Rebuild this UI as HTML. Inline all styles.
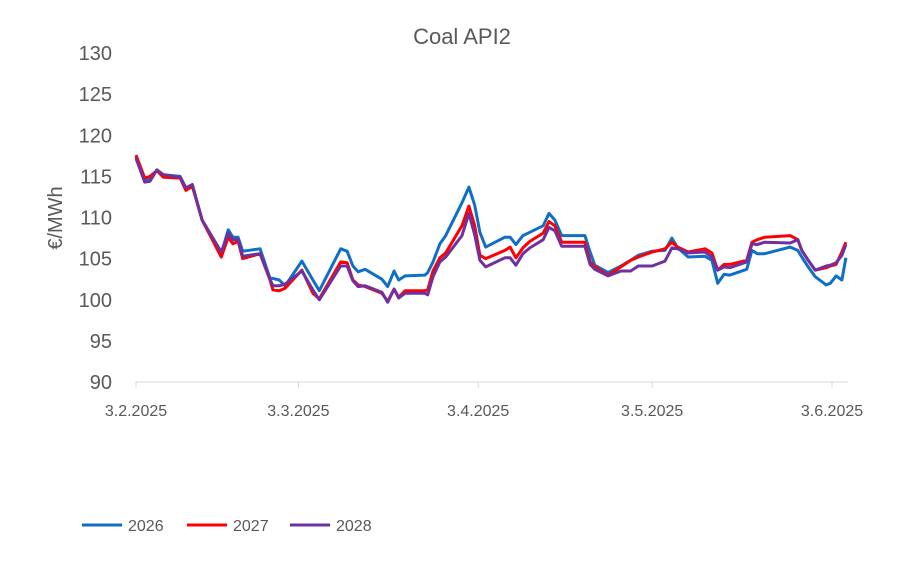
<!DOCTYPE html>
<html><head><meta charset="utf-8"><style>
body{margin:0;background:#fff;}
svg text{font-family:"Liberation Sans",sans-serif;fill:#595959;}
</style></head><body>
<svg width="900" height="574" viewBox="0 0 900 574" id="chart">
<text x="462" y="44" text-anchor="middle" font-size="22">Coal API2</text>
<text transform="translate(62,218) rotate(-90)" text-anchor="middle" font-size="20">€/MWh</text>
<g id="yticks"></g><g id="xaxis"></g><g id="series"></g><g id="legend"></g>
</svg>
<script>
const days=[0,1.5,2.4,3.6,4.7,7.6,8.6,9.7,11.4,14.7,15.9,16.7,17.6,18.4,21.4,23.1,23.6,24.7,25.7,28.6,30.5,31.6,35.3,36.4,37.4,38.3,39.5,42.4,43.4,44.5,45.3,46.4,49.8,50.3,51.2,52.4,53.4,56.2,57.4,58.4,59.3,60.3,63.6,64.5,65.5,66.7,67.9,70.2,71.2,72.2,73.4,77.4,78.3,79.1,81.4,83.6,85.3,86.6,89,91.2,92.4,93.4,95.2,98.1,99.3,100.3,101.4,102.4,105.3,106.2,107.1,108.4,112.8,114.1,114.8,115.9,117.1,119,119.7,120.7,121.7,122.4];
const s2026=[117.4,114.6,114.8,115.7,115.2,115.0,113.6,114.0,109.7,105.6,108.5,107.6,107.6,105.9,106.2,102.6,102.6,102.4,101.7,104.7,102.4,101.1,106.2,105.9,104.1,103.4,103.7,102.5,101.6,103.5,102.4,102.9,103.0,103.3,104.6,106.8,107.8,111.8,113.7,111.5,108.2,106.4,107.6,107.6,106.7,107.8,108.2,109.0,110.5,109.7,107.8,107.8,105.8,104.2,103.3,104.1,104.8,105.4,105.9,106.0,107.5,106.3,105.2,105.3,104.8,102.0,103.1,103.0,103.7,106.0,105.6,105.6,106.4,106.0,105.2,104.0,102.8,101.8,102.0,102.9,102.4,105.1];
const s2027=[117.6,114.8,115.0,115.7,114.9,114.8,113.3,113.8,109.7,105.2,107.6,106.8,107.1,105.0,105.6,102.4,101.2,101.1,101.4,103.6,100.8,100.1,104.6,104.5,102.4,101.8,101.6,100.8,99.8,101.3,100.3,101.1,101.1,101.2,103.5,105.1,105.7,109.0,111.4,109.0,105.4,105.0,106.0,106.4,105.1,106.3,107.1,108.1,109.5,109.0,107.0,107.0,104.6,104.0,103.0,104.0,104.8,105.2,105.8,106.2,107.0,106.4,105.8,106.2,105.7,103.6,104.3,104.3,104.8,107.0,107.3,107.6,107.8,107.3,106.0,104.8,103.6,103.9,104.1,104.3,105.8,107.0];
const s2028=[117.2,114.3,114.4,115.8,115.2,114.9,113.6,114.0,109.7,105.8,108.1,107.3,107.3,105.3,105.6,102.5,101.7,101.7,101.9,103.5,101.2,100.0,104.1,104.1,102.3,101.6,101.7,100.9,99.7,101.3,100.2,100.8,100.8,100.6,102.8,104.6,105.2,107.8,110.5,107.9,104.8,104.0,105.1,105.1,104.2,105.6,106.3,107.3,108.8,108.4,106.5,106.5,104.3,103.7,102.9,103.5,103.5,104.1,104.1,104.7,106.3,106.2,105.7,105.8,105.2,103.6,104.0,103.9,104.6,106.8,106.7,107.0,106.9,107.3,106.0,104.8,103.6,104.1,104.2,104.5,105.4,106.7];
const yTicks=[90,95,100,105,110,115,120,125,130];
const xTickDays=[0,28,59,89,120];
const xTickLabels=["3.2.2025","3.3.2025","3.4.2025","3.5.2025","3.6.2025"];
const seriesNames=["2026","2027","2028"];
const colors=["#0f6fc6","#ff0000","#7030a0"];
const NS="http://www.w3.org/2000/svg";
const X=d=>136+d*5.8;
const Y=v=>382-(v-90)*8.225;
function mk(t,a,p){const e=document.createElementNS(NS,t);for(const k in a)e.setAttribute(k,a[k]);p.appendChild(e);return e;}
const yg=document.getElementById('yticks');
yTicks.forEach(v=>{const t=mk('text',{x:112,y:Y(v)+7,'text-anchor':'end','font-size':20},yg);t.textContent=v;

});
const xg=document.getElementById('xaxis');
const ax=mk('line',{x1:136,y1:382,x2:848,y2:382,stroke:'#d9d9d9','stroke-width':1},xg);


xTickDays.forEach((d,i)=>{const l=mk('line',{x1:X(d),y1:382,x2:X(d),y2:388,stroke:'#d9d9d9'},xg);


const t=mk('text',{x:X(d),y:416,'text-anchor':'middle','font-size':16},xg);t.textContent=xTickLabels[i];

});
const sg=document.getElementById('series');
[s2026,s2027,s2028].forEach((s,i)=>{const pts=s.map((v,j)=>X(days[j]).toFixed(1)+','+Y(v).toFixed(1)).join(' ');
const p=mk('polyline',{points:pts,fill:'none',stroke:colors[i],'stroke-width':3,'stroke-linejoin':'round'},sg);

});
const lg=document.getElementById('legend');
const lx=[82,187,290];
seriesNames.forEach((n,i)=>{const g=mk('g',{},lg);


mk('line',{x1:lx[i],y1:525,x2:lx[i]+40,y2:525,stroke:colors[i],'stroke-width':3},g);
const t=mk('text',{x:lx[i]+46,y:531,'font-size':16},g);t.textContent=n;});
</script>
</body></html>
